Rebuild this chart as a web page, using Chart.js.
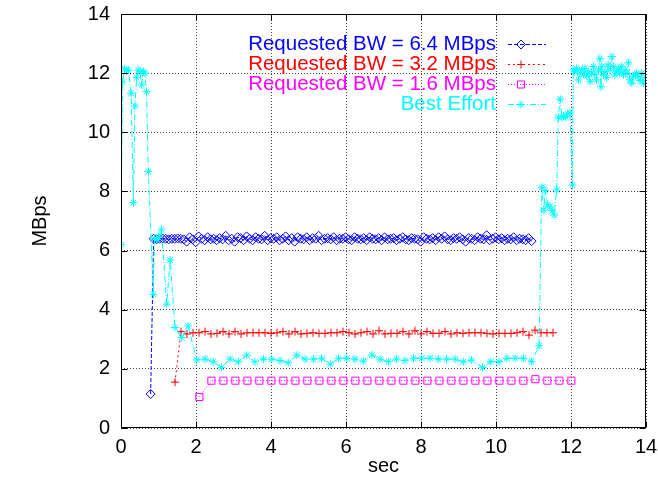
<!DOCTYPE html>
<html>
<head>
<meta charset="utf-8">
<script src="https://cdn.jsdelivr.net/npm/chart.js@4.4.1/dist/chart.umd.min.js"></script>
<style>
  html, body { margin: 0; padding: 0; background: #fff; }
  #c { display: block; }
</style>
</head>
<body>
<canvas id="c" width="658" height="481"></canvas>
<script>
// ---------------- DATA ----------------
const xTickValues = [0, 2, 4, 6, 8, 10, 12, 14];
const yTickValues = [0, 2, 4, 6, 8, 10, 12, 14];
const seriesLabels = [
  'Requested BW = 6.4 MBps',
  'Requested BW = 3.2 MBps',
  'Requested BW = 1.6 MBps',
  'Best Effort'
];
const xTitle = 'sec';
const yTitle = 'MBps';

const bw64Time = [
  0.79, 0.87, 0.95, 1.03, 1.11, 1.19, 1.27, 1.35, 1.43, 1.51,
  1.59, 1.67, 1.75, 1.83, 1.91, 1.99, 2.07, 2.15, 2.23, 2.31,
  2.39, 2.47, 2.55, 2.63, 2.71, 2.79, 2.87, 2.95, 3.03, 3.11,
  3.19, 3.27, 3.35, 3.43, 3.51, 3.59, 3.67, 3.75, 3.83, 3.91,
  3.99, 4.07, 4.15, 4.23, 4.31, 4.39, 4.47, 4.55, 4.63, 4.71,
  4.79, 4.87, 4.95, 5.03, 5.11, 5.19, 5.27, 5.35, 5.43, 5.51,
  5.59, 5.67, 5.75, 5.83, 5.91, 5.99, 6.07, 6.15, 6.23, 6.31,
  6.39, 6.47, 6.55, 6.63, 6.71, 6.79, 6.87, 6.95, 7.03, 7.11,
  7.19, 7.27, 7.35, 7.43, 7.51, 7.59, 7.67, 7.75, 7.83, 7.91,
  7.99, 8.07, 8.15, 8.23, 8.31, 8.39, 8.47, 8.55, 8.63, 8.71,
  8.79, 8.87, 8.95, 9.03, 9.11, 9.19, 9.27, 9.35, 9.43, 9.51,
  9.59, 9.67, 9.75, 9.83, 9.91, 9.99, 10.07, 10.15, 10.23, 10.31,
  10.39, 10.47, 10.55, 10.63, 10.71, 10.79, 10.87, 10.95
];
const bw64Rate = [
  1.15, 6.40, 6.38, 6.40, 6.41, 6.40, 6.38, 6.40, 6.40, 6.41,
  6.40, 6.38, 6.30, 6.45, 6.38, 6.28, 6.48, 6.40, 6.35, 6.45,
  6.38, 6.40, 6.35, 6.42, 6.38, 6.50, 6.35, 6.40, 6.30, 6.45,
  6.42, 6.35, 6.48, 6.40, 6.35, 6.45, 6.40, 6.38, 6.50, 6.35,
  6.42, 6.40, 6.45, 6.35, 6.40, 6.48, 6.35, 6.42, 6.30, 6.45,
  6.40, 6.38, 6.45, 6.35, 6.42, 6.40, 6.50, 6.35, 6.40, 6.42,
  6.38, 6.45, 6.35, 6.40, 6.40, 6.45, 6.38, 6.35, 6.45, 6.40,
  6.38, 6.42, 6.35, 6.45, 6.40, 6.38, 6.42, 6.35, 6.45, 6.38,
  6.40, 6.42, 6.35, 6.40, 6.45, 6.38, 6.35, 6.42, 6.40, 6.38,
  6.30, 6.45, 6.40, 6.38, 6.42, 6.35, 6.45, 6.40, 6.48, 6.38,
  6.35, 6.42, 6.40, 6.45, 6.38, 6.30, 6.42, 6.40, 6.35, 6.45,
  6.40, 6.38, 6.52, 6.35, 6.40, 6.45, 6.38, 6.42, 6.35, 6.40,
  6.38, 6.45, 6.35, 6.40, 6.38, 6.35, 6.42, 6.32
];

const bw32Time = [
  1.44, 1.60, 1.76, 1.92, 2.08, 2.24, 2.40, 2.56, 2.72, 2.88,
  3.04, 3.20, 3.36, 3.52, 3.68, 3.84, 4.00, 4.16, 4.32, 4.48,
  4.64, 4.80, 4.96, 5.12, 5.28, 5.44, 5.60, 5.76, 5.92, 6.08,
  6.24, 6.40, 6.56, 6.72, 6.88, 7.04, 7.20, 7.36, 7.52, 7.68,
  7.84, 8.00, 8.16, 8.32, 8.48, 8.64, 8.80, 8.96, 9.12, 9.28,
  9.44, 9.60, 9.76, 9.92, 10.08, 10.24, 10.40, 10.56, 10.72, 10.88,
  11.04, 11.20, 11.36, 11.52
];
const bw32Rate = [
  1.55, 3.26, 3.18, 3.22, 3.22, 3.26, 3.18, 3.20, 3.26, 3.18,
  3.26, 3.18, 3.22, 3.22, 3.22, 3.22, 3.20, 3.22, 3.26, 3.18,
  3.26, 3.18, 3.20, 3.22, 3.20, 3.20, 3.22, 3.22, 3.26, 3.22,
  3.18, 3.22, 3.26, 3.18, 3.29, 3.18, 3.20, 3.20, 3.26, 3.18,
  3.29, 3.18, 3.26, 3.20, 3.20, 3.26, 3.18, 3.22, 3.20, 3.22,
  3.22, 3.22, 3.20, 3.18, 3.20, 3.20, 3.20, 3.22, 3.26, 3.14,
  3.31, 3.22, 3.22, 3.22
];

const bw16Time = [
  2.09, 2.41, 2.73, 3.05, 3.37, 3.69, 4.01, 4.33, 4.65, 4.97,
  5.29, 5.61, 5.93, 6.25, 6.57, 6.89, 7.21, 7.53, 7.85, 8.17,
  8.49, 8.81, 9.13, 9.45, 9.77, 10.09, 10.41, 10.73, 11.05, 11.37,
  11.69, 12.01
];
const bw16Rate = [
  1.05, 1.60, 1.60, 1.60, 1.60, 1.60, 1.60, 1.60, 1.60, 1.60,
  1.60, 1.60, 1.60, 1.60, 1.60, 1.60, 1.60, 1.60, 1.60, 1.60,
  1.60, 1.60, 1.60, 1.60, 1.60, 1.60, 1.60, 1.60, 1.65, 1.60,
  1.60, 1.60
];

const bestTime = [
  0.00, 0.04, 0.10, 0.15, 0.20, 0.27, 0.33, 0.37, 0.42, 0.46,
  0.51, 0.55, 0.60, 0.64, 0.68, 0.73, 0.86, 0.89, 0.95, 1.00,
  1.08, 1.22, 1.31, 1.44, 1.62, 1.79, 2.02, 2.24, 2.46, 2.68,
  2.91, 3.13, 3.35, 3.57, 3.80, 4.02, 4.24, 4.46, 4.69, 4.91,
  5.13, 5.35, 5.58, 5.80, 6.02, 6.24, 6.46, 6.69, 6.91, 7.13,
  7.35, 7.57, 7.80, 8.02, 8.24, 8.46, 8.68, 8.91, 9.13, 9.35,
  9.64, 9.86, 10.08, 10.29, 10.51, 10.73, 10.95, 11.15, 11.22, 11.28,
  11.31, 11.38, 11.44, 11.50, 11.55, 11.62, 11.66, 11.71, 11.76, 11.81,
  11.86, 11.91, 11.97, 12.04, 12.06, 12.10, 12.15, 12.20, 12.24, 12.29,
  12.33, 12.37, 12.42, 12.46, 12.51, 12.55, 12.60, 12.64, 12.68, 12.73,
  12.77, 12.80, 12.82, 12.87, 12.91, 12.95, 12.99, 13.04, 13.09, 13.13,
  13.17, 13.22, 13.26, 13.30, 13.35, 13.40, 13.44, 13.49, 13.53, 13.57,
  13.62, 13.66, 13.71, 13.75, 13.79, 13.84, 13.89, 13.93, 13.98
];
const bestRate = [
  6.20, 11.70, 12.15, 12.08, 12.10, 11.32, 7.62, 10.89, 11.85, 12.10,
  12.05, 11.60, 12.05, 12.00, 11.37, 8.67, 4.52, 6.40, 6.38, 6.45,
  6.70, 4.19, 5.68, 3.40, 3.06, 3.45, 2.30, 2.33, 2.24, 2.05,
  2.33, 2.24, 2.46, 2.24, 2.33, 2.33, 2.28, 2.21, 2.46, 2.33,
  2.33, 2.36, 2.16, 2.36, 2.36, 2.33, 2.26, 2.47, 2.33, 2.24,
  2.33, 2.28, 2.36, 2.36, 2.36, 2.33, 2.33, 2.33, 2.24, 2.30,
  2.05, 2.24, 2.24, 2.36, 2.36, 2.36, 2.24, 2.78, 8.14, 7.37,
  8.03, 7.55, 7.48, 7.35, 7.20, 8.05, 10.51, 11.12, 10.50, 10.55,
  10.52, 10.62, 10.66, 8.22, 12.11, 12.05, 12.16, 11.77, 12.00, 12.11,
  11.95, 12.16, 11.90, 12.05, 11.71, 12.00, 12.23, 11.95, 11.77, 12.10,
  12.50, 11.54, 12.23, 11.95, 12.05, 11.85, 12.28, 12.10, 12.56, 12.23,
  11.94, 12.05, 12.16, 12.00, 12.23, 11.95, 12.11, 12.00, 12.35, 11.77,
  11.66, 11.90, 11.94, 12.00, 11.88, 11.75, 12.00, 11.66, 11.85
];

// ---------------- CHART ----------------
const FONT = '"Liberation Sans", Arial, Helvetica, sans-serif';
const pts = (xs, ys) => xs.map((x, i) => ({ x: x, y: ys[i] }));

const styles = [
  { color: '#0000ff', dash: [4, 2], pointStyle: 'rectRot', radius: 4.5 },
  { color: '#ff0000', dash: [2, 3], pointStyle: 'cross', radius: 4 },
  { color: '#ff00ff', dash: [1, 2], pointStyle: 'rect', radius: 5 },
  { color: '#00ffff', dash: [6, 2, 1, 2], pointStyle: 'star', radius: 4 }
];
const seriesData = [
  pts(bw64Time, bw64Rate),
  pts(bw32Time, bw32Rate),
  pts(bw16Time, bw16Rate),
  pts(bestTime, bestRate)
];

const datasets = seriesData.map((d, i) => ({
  label: seriesLabels[i],
  data: d,
  borderColor: styles[i].color,
  backgroundColor: 'rgba(0,0,0,0)',
  borderWidth: 1,
  borderDash: styles[i].dash,
  pointStyle: styles[i].pointStyle,
  pointRadius: styles[i].radius,
  pointBorderWidth: 1,
  pointBorderColor: styles[i].color,
  pointBackgroundColor: 'rgba(0,0,0,0)',
  tension: 0,
  fill: false,
  order: 3 - i
}));

const LEGEND = { textRight: 496, lineX0: 508, lineX1: 546, markX: 521, y0: 44, dy: 20 };

const gnuplotPlugin = {
  id: 'gnuplotDecor',
  afterDraw(chart) {
    const { ctx, chartArea: a } = chart;
    const xs = chart.scales.x, ys = chart.scales.y;
    ctx.save();
    ctx.setLineDash([]);
    ctx.strokeStyle = '#000';
    ctx.lineWidth = 1;
    const L = Math.round(a.left) + 0.5, R = Math.round(a.right) - 0.5;
    const T = Math.round(a.top) + 0.5, B = Math.round(a.bottom) - 0.5;
    ctx.strokeRect(L, T, R - L, B - T);
    const tl = 6;
    ctx.beginPath();
    xTickValues.forEach(v => {
      const px = Math.round(xs.getPixelForValue(v)) + 0.5;
      ctx.moveTo(px, B); ctx.lineTo(px, B - tl);
      ctx.moveTo(px, T); ctx.lineTo(px, T + tl);
    });
    yTickValues.forEach(v => {
      const py = Math.round(ys.getPixelForValue(v)) + 0.5;
      ctx.moveTo(L, py); ctx.lineTo(L + tl, py);
      ctx.moveTo(R, py); ctx.lineTo(R - tl, py);
    });
    ctx.stroke();

    ctx.font = '20.5px ' + FONT;
    ctx.textAlign = 'right';
    ctx.textBaseline = 'middle';
    chart.data.datasets.forEach((ds, i) => {
      const y = LEGEND.y0 + LEGEND.dy * i;
      ctx.fillStyle = ds.borderColor;
      ctx.fillText(ds.label, LEGEND.textRight, y);
      ctx.strokeStyle = ds.borderColor;
      ctx.lineWidth = 1;
      ctx.setLineDash(ds.borderDash);
      ctx.beginPath();
      ctx.moveTo(LEGEND.lineX0, Math.round(y) + 0.5);
      ctx.lineTo(LEGEND.lineX1, Math.round(y) + 0.5);
      ctx.stroke();
      ctx.setLineDash([]);
      ctx.fillStyle = 'rgba(0,0,0,0)';
      Chart.helpers.drawPoint(ctx, {
        pointStyle: ds.pointStyle, radius: ds.pointRadius, borderWidth: 1, rotation: 0
      }, LEGEND.markX, Math.round(y) + 0.5);
    });
    ctx.restore();
  }
};

const tickFont = { family: FONT, size: 20 };

new Chart(document.getElementById('c'), {
  type: 'line',
  data: { datasets: datasets },
  options: {
    responsive: false,
    animation: false,
    devicePixelRatio: 1,
    layout: { padding: { left: 0, right: 12, top: 14, bottom: 0 } },
    plugins: { legend: { display: false }, tooltip: { enabled: false } },
    elements: { line: { borderJoinStyle: 'miter' } },
    scales: {
      x: {
        type: 'linear', min: 0, max: 14,
        afterBuildTicks: s => { s.ticks = xTickValues.map(v => ({ value: v })); },
        afterFit: s => { s.height = 53; s.paddingLeft = 0; s.paddingRight = 0; },
        ticks: { color: '#000', font: tickFont, padding: 7, maxRotation: 0 },
        grid: { color: 'rgba(0,0,0,0.75)', lineWidth: 1, drawTicks: false },
        border: { display: false, dash: [1, 2] },
        title: { display: true, text: xTitle, color: '#000', font: tickFont, padding: { top: 0, bottom: 3 } }
      },
      y: {
        type: 'linear', min: 0, max: 14,
        afterBuildTicks: s => { s.ticks = yTickValues.map(v => ({ value: v })); },
        afterFit: s => { s.width = 121; s.paddingTop = 0; s.paddingBottom = 0; },
        ticks: { color: '#000', font: tickFont, padding: 11 },
        grid: { color: 'rgba(0,0,0,0.75)', lineWidth: 1, drawTicks: false },
        border: { display: false, dash: [1, 2] },
        title: { display: true, text: yTitle, color: '#000', font: tickFont, padding: { top: 28, bottom: 0 } }
      }
    }
  },
  plugins: [gnuplotPlugin]
});
</script>
</body>
</html>
